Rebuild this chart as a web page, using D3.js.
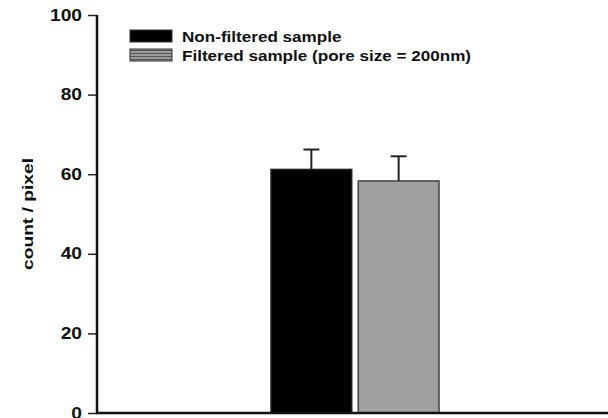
<!DOCTYPE html>
<html>
<head>
<meta charset="utf-8">
<script src="https://cdn.jsdelivr.net/npm/d3@7"></script>
<style>
  body { margin: 0; background: #fff; }
  svg text { font-family: "Liberation Sans", Arial, sans-serif; font-weight: bold; fill: #111; }
</style>
</head>
<body>
<svg id="chart" width="608" height="418"></svg>
<script>
// chart data
const groups = ['Non-filtered sample', 'Filtered sample (pore size = 200nm)'];
const means = [61.2, 58.3];
const errors = [5.0, 6.2];
const yTicks = [0, 20, 40, 60, 80, 100];
const yLabel = 'count / pixel';

const fills = ['#000000', '#a0a0a0'];
const strokes = ['#222222', '#404040'];

const svg = d3.select('svg#chart');
const axisX = 97;
const plotTop = 15;
const plotBottom = 413;

// the source picture is a bit wider than tall, so text gets stretched
function stretch(sel, k) {
  sel.each(function () {
    const len = this.getComputedTextLength();
    d3.select(this)
      .attr('textLength', len * k)
      .attr('lengthAdjust', 'spacingAndGlyphs');
  });
}

const yScale = d3.scaleLinear()
  .domain([0, 100])
  .range([plotBottom, plotTop]);

const xScale = d3.scaleBand()
  .domain(groups)
  .range([271, 439])
  .paddingInner(0.075);

// striped pattern for the legend swatch of filtered sample
const defs = svg.append('defs');
const pat = defs.append('pattern')
  .attr('id', 'stripes')
  .attr('patternUnits', 'userSpaceOnUse')
  .attr('width', 6)
  .attr('height', 3);
pat.append('rect').attr('width', 6).attr('height', 3).attr('fill', '#9a9a9a');
pat.append('rect').attr('y', 2).attr('width', 6).attr('height', 1).attr('fill', '#555');

// bars
svg.selectAll('rect.bar')
  .data(groups)
  .enter()
  .append('rect')
  .attr('class', 'bar')
  .attr('x', (d) => xScale(d))
  .attr('y', (d, i) => yScale(means[i]))
  .attr('width', xScale.bandwidth())
  .attr('height', (d, i) => yScale(0) - yScale(means[i]))
  .attr('fill', (d, i) => fills[i])
  .attr('stroke', (d, i) => strokes[i])
  .attr('stroke-width', 1.5);

// error bars (upper half only)
const err = svg.selectAll('g.err')
  .data(groups)
  .enter()
  .append('g')
  .attr('class', 'err');
err.append('line')
  .attr('x1', (d) => xScale(d) + xScale.bandwidth() / 2)
  .attr('x2', (d) => xScale(d) + xScale.bandwidth() / 2)
  .attr('y1', (d, i) => yScale(means[i]))
  .attr('y2', (d, i) => yScale(means[i] + errors[i]))
  .attr('stroke', '#222')
  .attr('stroke-width', 2);
err.append('line')
  .attr('x1', (d) => xScale(d) + xScale.bandwidth() / 2 - 8)
  .attr('x2', (d) => xScale(d) + xScale.bandwidth() / 2 + 8)
  .attr('y1', (d, i) => yScale(means[i] + errors[i]))
  .attr('y2', (d, i) => yScale(means[i] + errors[i]))
  .attr('stroke', '#222')
  .attr('stroke-width', 2);

// y axis
const yAxis = d3.axisLeft(yScale)
  .tickValues(yTicks)
  .tickSize(9)
  .tickPadding(6);
const gy = svg.append('g')
  .attr('transform', `translate(${axisX},0)`)
  .call(yAxis);
gy.select('.domain').remove();
gy.selectAll('.tick line').attr('stroke', '#222').attr('stroke-width', 1.5);
gy.selectAll('.tick text')
  .attr('font-size', 16)
  .attr('fill', '#111')
  .style('font-family', '"Liberation Sans", Arial, sans-serif')
  .style('font-weight', 'bold')
  .call(stretch, 1.2);
svg.append('line')
  .attr('x1', axisX).attr('x2', axisX)
  .attr('y1', plotTop).attr('y2', plotBottom + 1)
  .attr('stroke', '#111')
  .attr('stroke-width', 2.5);

// x axis baseline
svg.append('line')
  .attr('x1', axisX - 1).attr('x2', 608)
  .attr('y1', plotBottom).attr('y2', plotBottom)
  .attr('stroke', '#111')
  .attr('stroke-width', 2.5);

// y label
svg.append('text')
  .attr('transform', `translate(33,${(plotTop + plotBottom) / 2}) rotate(-90)`)
  .attr('text-anchor', 'middle')
  .attr('font-size', 15)
  .text(yLabel)
  .call(stretch, 1.28);

// legend
const legend = svg.append('g');
groups.forEach((g, i) => {
  const y = 30 + i * 19;
  legend.append('rect')
    .attr('x', 130).attr('y', y)
    .attr('width', 42).attr('height', 12)
    .attr('fill', i === 0 ? '#000' : 'url(#stripes)')
    .attr('stroke', '#333')
    .attr('stroke-width', 1);
  legend.append('text')
    .attr('x', 182).attr('y', y + 12)
    .attr('font-size', 14)
    .text(g)
    .call(stretch, 1.22);
});
</script>
</body>
</html>
